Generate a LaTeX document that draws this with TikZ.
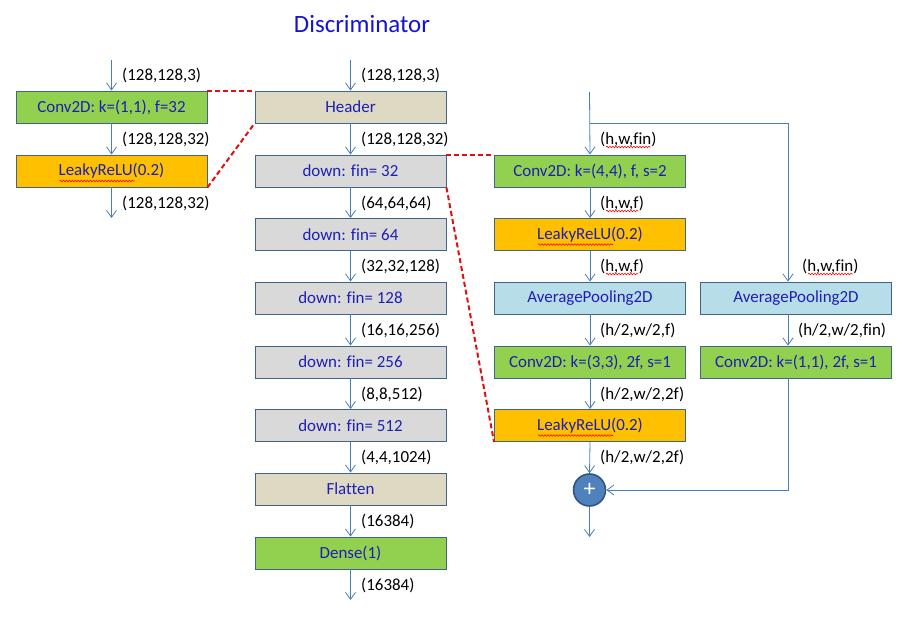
\documentclass[tikz,border=0pt]{standalone}
\usepackage{fontspec}
\setmainfont[Ligatures=NoCommon]{Carlito}
\usetikzlibrary{arrows.meta,decorations.pathmorphing,calc}
\definecolor{cgreen}{RGB}{146,208,80}
\definecolor{corange}{RGB}{255,192,0}
\definecolor{ctan}{RGB}{221,217,195}
\definecolor{cgray}{RGB}{217,217,217}
\definecolor{clblue}{RGB}{183,222,232}
\definecolor{boxborder}{RGB}{65,100,135}
\definecolor{boxtext}{RGB}{30,30,180}
\definecolor{titleblue}{RGB}{20,20,210}
\definecolor{arrowc}{RGB}{74,126,187}
\definecolor{circfill}{RGB}{79,129,189}
\definecolor{circborder}{RGB}{50,85,130}
\definecolor{dashred}{RGB}{225,15,15}
\begin{document}
\begin{tikzpicture}[x=1bp,y=-1bp,
  box/.style={draw=boxborder, line width=0.9bp, minimum width=191bp, minimum height=32bp, inner sep=0pt, font=\fontsize{17}{20}\selectfont, text=boxtext},
  gbox/.style={box, fill=cgreen},
  obox/.style={box, fill=corange},
  tbox/.style={box, fill=ctan},
  sbox/.style={box, fill=cgray},
  lbbox/.style={box, fill=clblue},
  lab/.style={anchor=west, inner sep=0pt, font=\fontsize{17}{20}\selectfont, text=black},
  arr/.style={draw=arrowc, line width=0.8bp, -{Straight Barb[length=7bp,width=10bp]}},
  reddash/.style={draw=dashred, line width=2bp, dash pattern=on 5bp off 3bp},
  sq/.style={draw=red, line width=0.6bp, decorate, decoration={snake, amplitude=0.8bp, segment length=3bp}}
]
\useasboundingbox (0,0) rectangle (903,641);
\fill[white] (0,0) rectangle (903,641);

\node[font=\fontsize{25}{30}\selectfont, text=titleblue] (title) at (362,24) {Discriminator};

% left column
\node[gbox] (conv1) at (111.5,107) {Conv2D: k=(1,1), f=32};
\node[obox] (lrelu1) at (111.5,171) {LeakyReLU(0.2)};
\coordinate (in1) at (111.5,60);
\coordinate (out1) at (111.5,218);
\draw[arr] (in1) -- (conv1.north);
\draw[arr] (conv1.south) -- (lrelu1.north);
\draw[arr] (lrelu1.south) -- (out1);
\node[lab] (la1) at (122,75) {(128,128,3)};
\node[lab] (la2) at (122,139) {(128,128,32)};
\node[lab] (la3) at (122,203) {(128,128,32)};

% middle column
\node[tbox] (header) at (350.5,107) {Header};
\node[sbox] (down32) at (350.5,171) {down: fin= 32};
\node[sbox] (down64) at (350.5,234.5) {down: fin= 64};
\node[sbox] (down128) at (350.5,298) {down: fin= 128};
\node[sbox] (down256) at (350.5,362) {down: fin= 256};
\node[sbox] (down512) at (350.5,425.5) {down: fin= 512};
\node[tbox] (flatten) at (350.5,489) {Flatten};
\node[gbox] (dense) at (350.5,553) {Dense(1)};
\coordinate (in2) at (350.5,60);
\coordinate (out2) at (350.5,600);
\draw[arr] (in2) -- (header.north);
\draw[arr] (header.south) -- (down32.north);
\draw[arr] (down32.south) -- (down64.north);
\draw[arr] (down64.south) -- (down128.north);
\draw[arr] (down128.south) -- (down256.north);
\draw[arr] (down256.south) -- (down512.north);
\draw[arr] (down512.south) -- (flatten.north);
\draw[arr] (flatten.south) -- (dense.north);
\draw[arr] (dense.south) -- (out2);
\node[lab] (lb1) at (361,75) {(128,128,3)};
\node[lab] (lb2) at (361,139) {(128,128,32)};
\node[lab] (lb3) at (361,203) {(64,64,64)};
\node[lab] (lb4) at (361,266) {(32,32,128)};
\node[lab] (lb5) at (361,330) {(16,16,256)};
\node[lab] (lb6) at (361,394) {(8,8,512)};
\node[lab] (lb7) at (361,457) {(4,4,1024)};
\node[lab] (lb8) at (361,521) {(16384)};
\node[lab] (lb9) at (361,585) {(16384)};

% right column
\node[gbox] (conv44) at (590,171) {Conv2D: k=(4,4), f, s=2};
\node[obox] (lrelu2) at (590,234.5) {LeakyReLU(0.2)};
\node[lbbox] (avg1) at (590,298) {AveragePooling2D};
\node[gbox] (conv33) at (590,362) {Conv2D: k=(3,3), 2f, s=1};
\node[obox] (lrelu3) at (590,425.5) {LeakyReLU(0.2)};
\node[circle, fill=circfill, draw=circborder, line width=1.6bp, minimum size=32bp, inner sep=0pt, text=white, font=\fontsize{24}{24}\selectfont] (plus) at (589.5,490) {+};
\coordinate (in3) at (589.5,92);
\coordinate (br) at (589.5,123);
\coordinate (bx) at (788,123);
\coordinate (out3) at (589.5,537);
\draw[arr] (in3) -- (conv44.north);
\draw[arr] (conv44.south) -- (lrelu2.north);
\draw[arr] (lrelu2.south) -- (avg1.north);
\draw[arr] (avg1.south) -- (conv33.north);
\draw[arr] (conv33.south) -- (lrelu3.north);
\draw[arr] (lrelu3.south) -- (plus.north);
\draw[arr] (plus.south) -- (out3);
\node[lab] (lc1) at (600,139) {(h,w,fin)};
\node[lab] (lc2) at (600,203) {(h,w,f)};
\node[lab] (lc3) at (600,266) {(h,w,f)};
\node[lab] (lc4) at (600,330) {(h/2,w/2,f)};
\node[lab] (lc5) at (600,394) {(h/2,w/2,2f)};
\node[lab] (lc6) at (600,457) {(h/2,w/2,2f)};

% far right column
\node[lbbox] (avg2) at (796,298) {AveragePooling2D};
\node[gbox] (conv11) at (796,362) {Conv2D: k=(1,1), 2f, s=1};
\draw[arr] (br) -- (bx) -- (bx |- avg2.north);
\draw[arr] (bx |- avg2.south) -- (bx |- conv11.north);
\draw[arr] (bx |- conv11.south) |- (plus.east);
\node[lab] (ld1) at (802,266) {(h,w,fin)};
\node[lab] (ld2) at (798,330) {(h/2,w/2,fin)};

% red dashed correspondences
\draw[reddash] (conv1.north east) -- (header.north west);
\draw[reddash] (lrelu1.south east) -- (header.south west);
\draw[reddash] (down32.north east) -- (conv44.north west);
\draw[reddash] (down32.south east) -- (lrelu3.south west);

% spell-check squiggles
\foreach \n in {lrelu1,lrelu2,lrelu3}{
  \draw[sq] ($(\n.center)+(-52,10)$) -- ($(\n.center)+(23,10)$);
}
\foreach \n in {lc1,lc2,lc3,ld1}{
  \draw[sq] ($(\n.base west)+(6,3)$) -- ($(\n.base east)+(-6,3)$);
}
\end{tikzpicture}
\end{document}
